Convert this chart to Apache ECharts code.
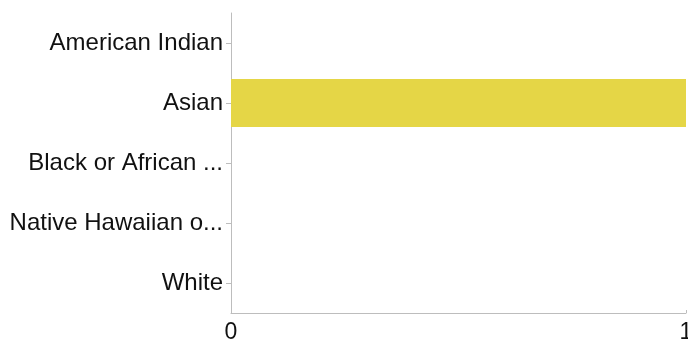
<!DOCTYPE html>
<html>
<head>
<meta charset="utf-8">
<script src="https://cdn.jsdelivr.net/npm/echarts@6/dist/echarts.min.js"></script>
<style>html,body{margin:0;padding:0;background:#fff;}#c{width:688px;height:348px;}</style>
</head>
<body>
<div id="c"></div>
<script>
const categories = ["American Indian", "Asian", "Black or African ...", "Native Hawaiian o...", "White"];
const values = [0, 1, 0, 0, 0];
const xTicks = { min: 0, max: 1, interval: 1 };

const FONT = "'Liberation Sans', Arial, Helvetica, sans-serif";
const chart = echarts.init(document.getElementById('c'), null, { renderer: 'canvas' });
chart.setOption({
  animation: false,
  backgroundColor: '#ffffff',
  grid: { left: 231, right: 2, top: 13, bottom: 35, containLabel: false, outerBoundsMode: 'none' },
  xAxis: {
    type: 'value',
    min: xTicks.min, max: xTicks.max, interval: xTicks.interval,
    axisLine: { show: true, lineStyle: { color: '#bdbdbd', width: 1 } },
    axisTick: { show: true, inside: true, length: 3, lineStyle: { color: '#bdbdbd' } },
    splitLine: { show: false },
    axisLabel: { color: '#111', fontSize: 23, fontFamily: FONT, margin: 8, showMaxLabel: true, hideOverlap: false }
  },
  yAxis: {
    type: 'category',
    inverse: true,
    data: categories,
    axisLine: { show: true, lineStyle: { color: '#bdbdbd', width: 1 } },
    axisTick: { show: true, alignWithLabel: true, length: 5, lineStyle: { color: '#bdbdbd' } },
    axisLabel: { color: '#111', fontSize: 24, fontFamily: FONT, margin: 8 }
  },
  series: [{
    type: 'bar',
    data: values,
    barCategoryGap: '20%',
    itemStyle: { color: '#e5d646' }
  }]
});
</script>
</body>
</html>
